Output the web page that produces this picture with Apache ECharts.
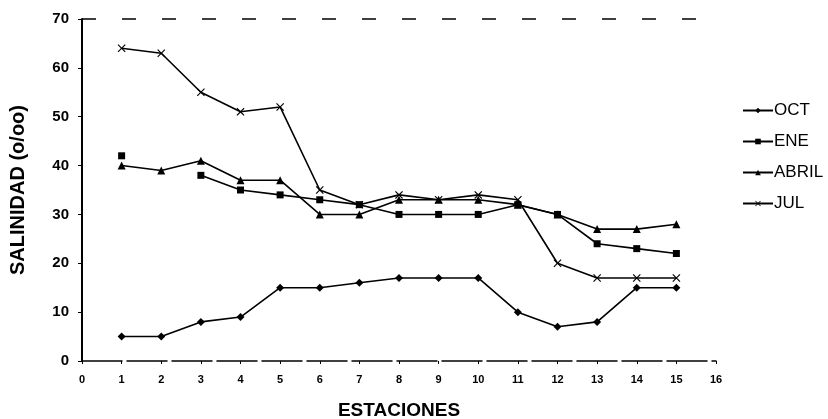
<!DOCTYPE html>
<html><head><meta charset="utf-8">
<script src="https://cdn.jsdelivr.net/npm/echarts@6/dist/echarts.min.js"></script>
<style>html,body{margin:0;padding:0;background:#fff}#c{width:828px;height:419px}</style>
</head><body><div id="c"></div>
<script>
const stations = [1,2,3,4,5,6,7,8,9,10,11,12,13,14,15];
const oct   = [5,5,8,9,15,15,16,17,17,17,10,7,8,15,15];
const ene   = [42,null,38,35,34,33,32,30,30,30,32,30,24,23,22];
const abril = [40,39,41,37,37,30,30,33,33,33,32,30,27,27,28];
const jul   = [64,63,55,51,52,35,32,34,33,34,33,20,17,17,17];
const xTicks = [0,1,2,3,4,5,6,7,8,9,10,11,12,13,14,15,16];
const yTicks = [0,10,20,30,40,50,60,70];

const FONT = '"Liberation Sans", Arial, sans-serif';
const crossPath = 'path://M0,1L1,0L5,4L9,0L10,1L6,5L10,9L9,10L5,6L1,10L0,9L4,5Z';
function pts(arr){ return stations.map((s,i)=>[s, arr[i]]); }
function mk(name, arr, symbol, size){
  return {
    name, type:'line', data: pts(arr), symbol, symbolSize: size,
    connectNulls:false, showSymbol:true,
    lineStyle:{color:'#000', width:1.6},
    itemStyle:{color:'#000'},
    emphasis:{disabled:true}, animation:false
  };
}
const series = [
  mk('OCT', oct, 'diamond', 8),
  mk('ENE', ene, 'rect', 7),
  mk('ABRIL', abril, 'triangle', 8),
  mk('JUL', jul, crossPath, 8)
];
series[0].markLine = {
  silent:true, symbol:'none', label:{show:false}, animation:false,
  lineStyle:{color:'#000', width:1.5, type:[14,26]},
  data:[{yAxis:70}]
};
const chart = echarts.init(document.getElementById('c'), null, {renderer:'canvas'});
chart.setOption({
  animation:false,
  backgroundColor:'#fff',
  textStyle:{fontFamily:FONT},
  grid:{left:82, right:112, top:19, bottom:58, containLabel:false, outerBoundsMode:'none'},
  legend:{
    orient:'vertical', left:737, top:97, itemWidth:30, itemHeight:7, itemGap:14,
    textStyle:{fontFamily:FONT, fontSize:17, color:'#000', padding:[0,0,0,-4]},
    data: series.map(s=>s.name)
  },
  xAxis:{
    type:'value', min:xTicks[0], max:xTicks[xTicks.length-1], interval:1,
    name:'ESTACIONES', nameLocation:'middle', nameGap:40,
    nameTextStyle:{fontFamily:FONT, fontSize:19, fontWeight:'bold', color:'#000'},
    axisLine:{show:true, onZero:false, lineStyle:{color:'#000', width:1.5, type:[40,5]}},
    axisTick:{show:true, length:3, lineStyle:{color:'#000'}},
    axisLabel:{fontFamily:FONT, fontSize:11, fontWeight:'bold', color:'#000', margin:13},
    splitLine:{show:false}
  },
  yAxis:{
    type:'value', min:yTicks[0], max:yTicks[yTicks.length-1], interval:10,
    name:'SALINIDAD (o/oo)', nameLocation:'middle', nameGap:54, nameRotate:90,
    nameTextStyle:{fontFamily:FONT, fontSize:20, fontWeight:'bold', color:'#000'},
    axisLine:{show:true, lineStyle:{color:'#000', width:2}},
    axisTick:{show:true, length:4, lineStyle:{color:'#000'}},
    axisLabel:{fontFamily:FONT, fontSize:15, fontWeight:'bold', color:'#000', margin:13},
    splitLine:{show:false}
  },
  series
});
</script></body></html>
